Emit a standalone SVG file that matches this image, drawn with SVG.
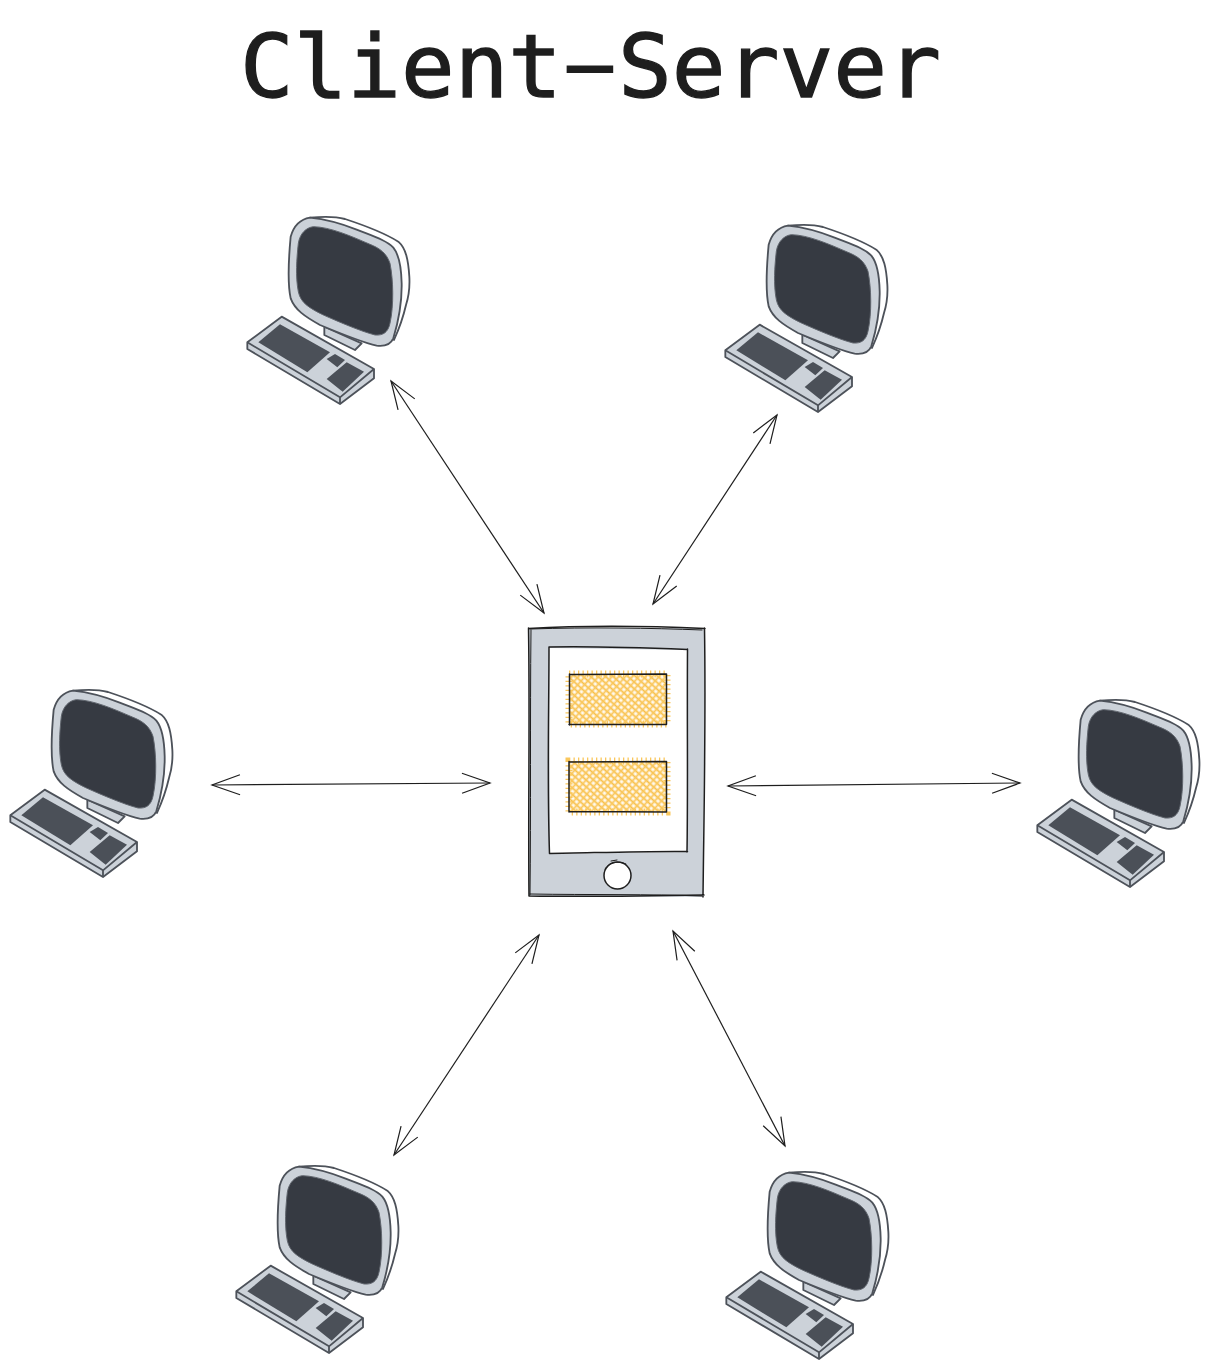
<svg xmlns="http://www.w3.org/2000/svg" xmlns:xlink="http://www.w3.org/1999/xlink" width="1220" height="1369" viewBox="0 0 1220 1369">
<style>
.title{font-family:"DejaVu Sans Mono","Liberation Mono",monospace;font-size:88px;fill:#1e1e1e;stroke:#1e1e1e;stroke-width:1.300}
.dash{font-family:Roboto,"Liberation Sans",sans-serif;font-size:100px;stroke:none}
.conn{fill:none;stroke:#1e1e1e;stroke-width:1.200;marker-start:url(#head);marker-end:url(#head)}
.sk{fill:none;stroke:#1e1e1e;stroke-width:1;stroke-linecap:round}
.skh{fill:none;stroke:#1e1e1e;stroke-width:1.500;stroke-linecap:round}
.pc-line{stroke:#4d525a;stroke-width:5.500;stroke-linejoin:round}
.hatched{fill:url(#hatch);stroke:#fac75c;stroke-width:7;stroke-dasharray:1.300 3.200}
</style>
<defs>
<marker id="head" viewBox="-30 -13 34 26" refX="0" refY="0" markerWidth="34" markerHeight="26" markerUnits="userSpaceOnUse" orient="auto-start-reverse">
<path d="M-28,-10 L0,0 L-28,10" fill="none" stroke="#1e1e1e" stroke-width="1.200"/>
</marker>
<pattern id="hatch" width="5" height="5" patternUnits="userSpaceOnUse" patternTransform="rotate(42)">
<rect width="5" height="5" fill="#fffaf0"/>
<path d="M0,2.500H5" stroke="#f8bf45" stroke-width="1.800"/>
<path d="M2.500,0V5" stroke="#fac75c" stroke-width="1.800"/>
</pattern>
<g id="pc" transform="translate(-17,-12) scale(.33333)">
<path class="pc-line" fill="#fff" d="M240,38C280,34 320,35 345,42C400,60 460,82 505,110C528,130 535,165 538,215C540,250 536,275 528,300C520,335 510,365 492,405L240,100Z"/>
<path class="pc-line" fill="#ccd2d9" d="M283,365L283,390L375,435L395,415Z"/>
<path class="pc-line" fill="#ccd2d9" d="M240,38C280,42 330,54 380,74C430,94 470,106 490,128C508,150 514,190 515,235C516,290 505,350 490,400C482,418 465,425 440,422C395,412 330,385 270,360C225,335 195,315 182,280C172,235 175,170 182,95C192,60 215,42 240,38Z"/>
<path fill="#363a42" stroke="#5f646c" stroke-width="3" d="M250,65C300,66 360,92 420,118C450,130 470,145 480,175C490,225 492,300 480,355C474,382 460,392 435,390C390,378 330,352 280,330C240,310 212,295 205,260C196,215 200,160 205,115C210,85 228,68 250,65Z"/>
<path class="pc-line" fill="#ccd2d9" d="M52,412L52,432L330,597L432,520L432,492L155,335Z"/>
<path class="pc-line" fill="none" d="M52,412L330,577L432,492M330,577V597"/>
<path fill="#4b5058" d="M85,412L150,358L300,442L232,502Z"/>
<path fill="#4b5058" d="M290,462L315,447L345,465L322,487Z"/>
<path fill="#4b5058" d="M290,522L350,472L402,500L338,560Z"/>
</g>
</defs>
<rect width="1220" height="1369" fill="#fff"/>
<text class="title" y="97"><tspan x="240" textLength="322" lengthAdjust="spacingAndGlyphs">Client</tspan><tspan class="dash" x="563" y="100" textLength="54" lengthAdjust="spacingAndGlyphs">-</tspan><tspan x="618" y="97" textLength="323" lengthAdjust="spacingAndGlyphs">Server</tspan></text>
<g id="connectors">
<path class="conn" d="M391,381L544,613"/>
<path class="conn" d="M777,415L653,604"/>
<path class="conn" d="M212,785L490,783"/>
<path class="conn" d="M728,786L1020,783"/>
<path class="conn" d="M539,935L394,1155"/>
<path class="conn" d="M673,931L785,1146"/>
</g>
<g id="client-1"><use xlink:href="#pc" href="#pc" x="247" y="217"/></g>
<g id="client-2"><use xlink:href="#pc" href="#pc" x="725" y="225"/></g>
<g id="client-3"><use xlink:href="#pc" href="#pc" x="10" y="690"/></g>
<g id="client-4"><use xlink:href="#pc" href="#pc" x="1037" y="700"/></g>
<g id="client-5"><use xlink:href="#pc" href="#pc" x="236" y="1166"/></g>
<g id="client-6"><use xlink:href="#pc" href="#pc" x="726" y="1172"/></g>
<g id="server">
<path fill="#ccd2d9" d="M529,628L705,628L703,897L529,896Z"/>
<path class="skh" d="M528.500,628.500C590,625 650,626 705,628.500M704.500,628C706,720 704,810 703,897M704,895C650,896 590,897 529,896M529,896C528,810 530,720 528.500,628"/>
<path class="sk" d="M530,629C590,627 650,628 702,630M530,894C590,895 650,894 702,896M531,630C530,720 531,810 530,895"/>
<path fill="#fff" d="M549,648L687,650L687,852L550,854Z"/>
<path class="skh" d="M549,647C600,646 650,648 687.500,649.500M687.500,649C687,720 688,790 687,852M687.500,851.500C640,851 590,853 549.500,853.500M549.500,853.500C547,780 549,710 549,647"/>
<rect class="hatched" x="569" y="674" width="98" height="50"/>
<rect class="hatched" x="569" y="761" width="98" height="51"/>
<path class="skh" d="M569.500,674.500L666.500,674M666.500,674L666.500,724M666.500,724.500L569,724.500M569.500,725L569.500,674"/>
<path class="skh" d="M569,762L666.500,761.500M666.500,761.500L666.500,812M666.500,812L569,811.500M569,812L569,761.500"/>
<circle cx="617.500" cy="875.500" r="13.500" fill="#fff" stroke="#1e1e1e" stroke-width="1.500"/>
<path class="sk" d="M605,869C608,863 618,860 626,864M611,861L617,860"/>
</g>
</svg>
